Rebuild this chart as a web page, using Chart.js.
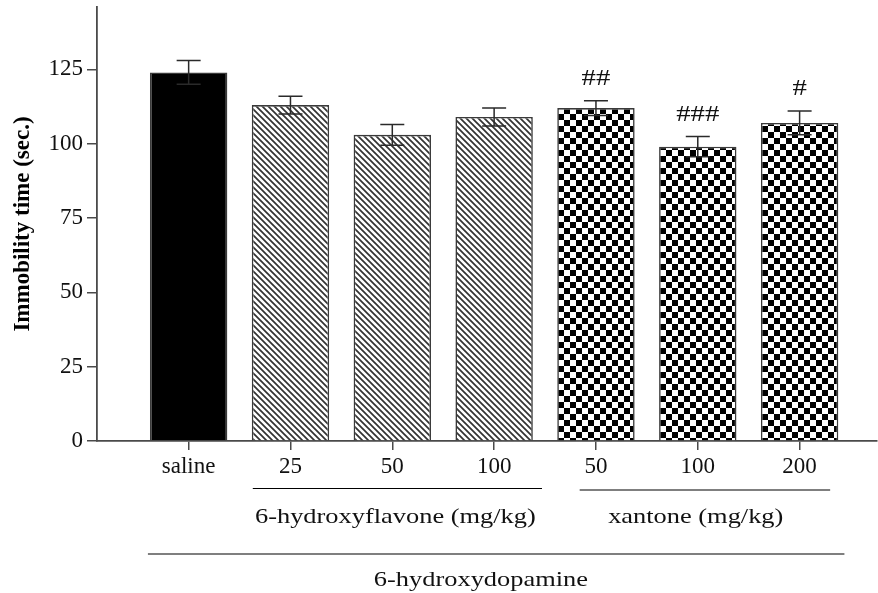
<!DOCTYPE html>
<html>
<head>
<meta charset="utf-8">
<script src="https://cdn.jsdelivr.net/npm/chart.js@4.4.1/dist/chart.umd.min.js"></script>
<style>
  html, body { margin: 0; padding: 0; background: #fff; }
  #wrap { width: 878px; height: 593px; position: relative; }
</style>
</head>
<body>
<div id="wrap"><canvas id="c"></canvas></div>
<script>
// Immobility time after 6-hydroxydopamine, by treatment group
const categories   = ['saline', '25', '50', '100', '50', '100', '200'];
const treatment    = ['saline', 'flavone', 'flavone', 'flavone', 'xantone', 'xantone', 'xantone'];
const immobility   = [124, 113, 103, 109, 112, 99, 107];
const sem          = [4, 3, 3.5, 3, 2.5, 3.4, 4];
const significance = ['', '', '', '', '##', '###', '#'];
const yTicks       = [0, 25, 50, 75, 100, 125];
const groupNames   = ['6-hydroxyflavone (mg/kg)', 'xantone (mg/kg)', '6-hydroxydopamine'];

const SERIF = '"Liberation Serif", "Times New Roman", serif';
const INK = '#111';
const AXIS = '#4a4a4a';

// diagonal hatch (top-left to bottom-right)
function hatchPattern() {
  const s = 6;
  const c = document.createElement('canvas');
  c.width = c.height = s;
  const g = c.getContext('2d');
  g.fillStyle = '#fff';
  g.fillRect(0, 0, s, s);
  g.strokeStyle = '#333';
  g.lineWidth = 1.7;
  g.beginPath();
  for (const d of [-s, 0, s]) {
    g.moveTo(d - 1, -1);
    g.lineTo(d + s + 1, s + 1);
  }
  g.stroke();
  return g.createPattern(c, 'repeat');
}

// black / white checkerboard
function checkerPattern() {
  const s = 6;
  const c = document.createElement('canvas');
  c.width = c.height = 2 * s;
  const g = c.getContext('2d');
  g.fillStyle = '#fff';
  g.fillRect(0, 0, 2 * s, 2 * s);
  g.fillStyle = '#000';
  g.fillRect(0, 0, s, s);
  g.fillRect(s, s, s, s);
  return g.createPattern(c, 'repeat');
}

const fills = { saline: '#000', flavone: hatchPattern(), xantone: checkerPattern() };

// mean ± SEM whiskers with caps
const errorBars = {
  id: 'errorBars',
  afterDatasetsDraw(chart, args, opts) {
    const { ctx, scales: { x, y } } = chart;
    ctx.save();
    ctx.strokeStyle = opts.color;
    ctx.lineWidth = opts.width;
    immobility.forEach((v, i) => {
      const px = x.getPixelForValue(i + 1);
      const top = y.getPixelForValue(v + sem[i]);
      const bot = y.getPixelForValue(v - sem[i]);
      const h = opts.cap / 2;
      ctx.beginPath();
      ctx.moveTo(px, bot); ctx.lineTo(px, top);
      ctx.moveTo(px - h, top); ctx.lineTo(px + h, top);
      ctx.moveTo(px - h, bot); ctx.lineTo(px + h, bot);
      ctx.stroke();
    });
    ctx.restore();
  }
};

// significance marks above the whiskers
const marks = {
  id: 'marks',
  afterDatasetsDraw(chart, args, opts) {
    const { ctx, scales: { x, y } } = chart;
    ctx.save();
    ctx.fillStyle = INK;
    ctx.font = opts.size + 'px ' + SERIF;
    ctx.textAlign = 'center';
    ctx.textBaseline = 'alphabetic';
    significance.forEach((s, i) => {
      if (!s) return;
      const px = x.getPixelForValue(i + 1);
      const py = y.getPixelForValue(immobility[i] + sem[i]) - opts.gap;
      ctx.save();
      ctx.translate(px, py);
      ctx.scale(opts.stretch, 1);
      ctx.fillText(s, 0, 0);
      ctx.restore();
    });
    ctx.restore();
  }
};

// bracket lines and group captions under the x axis
const groupLabels = {
  id: 'groupLabels',
  afterDraw(chart, args, opts) {
    const { ctx, scales: { x } } = chart;
    ctx.save();
    ctx.strokeStyle = '#000';
    ctx.lineWidth = 1.2;
    ctx.fillStyle = INK;
    ctx.font = opts.size + 'px ' + SERIF;
    ctx.textAlign = 'center';
    ctx.textBaseline = 'alphabetic';
    opts.items.forEach((it, k) => {
      const x1 = x.getPixelForValue(it.from);
      const x2 = x.getPixelForValue(it.to);
      ctx.beginPath();
      ctx.moveTo(x1, it.lineY);
      ctx.lineTo(x2, it.lineY);
      ctx.stroke();
      ctx.save();
      ctx.translate(x.getPixelForValue(it.labelAt), it.textY);
      ctx.scale(opts.stretch, 1);
      ctx.fillText(groupNames[k], 0, 0);
      ctx.restore();
    });
    ctx.restore();
  }
};

new Chart(document.getElementById('c'), {
  type: 'bar',
  data: {
    datasets: [{
      data: immobility.map((v, i) => ({ x: i + 1, y: v })),
      backgroundColor: treatment.map(t => fills[t]),
      borderColor: '#3a3a3a',
      borderWidth: 1.6,
      barPercentage: 0.76,
      categoryPercentage: 1.0
    }]
  },
  options: {
    responsive: true,
    maintainAspectRatio: false,
    animation: false,
    layout: { padding: { top: 7, right: 1, left: 0, bottom: 0 } },
    plugins: {
      legend: { display: false },
      tooltip: { enabled: false },
      errorBars: { color: '#2a2a2a', width: 1.5, cap: 24 },
      marks: { size: 23, gap: 16, stretch: 1.25 },
      groupLabels: {
        size: 22,
        stretch: 1.2,
        items: [
          { from: 1.63, to: 4.47, labelAt: 3.03, lineY: 488.5, textY: 523 },
          { from: 4.84, to: 7.30, labelAt: 5.98, lineY: 490, textY: 523 },
          { from: 0.60, to: 7.44, labelAt: 3.87, lineY: 554, textY: 586 }
        ]
      }
    },
    scales: {
      x: {
        type: 'linear',
        offset: false,
        min: 0.1,
        max: 7.76,
        afterBuildTicks: s => { s.ticks = categories.map((_, i) => ({ value: i + 1 })); },
        afterFit: s => { s.height = 152; },
        grid: { display: true, offset: false, drawOnChartArea: false, drawTicks: true, tickLength: 9, color: AXIS, lineWidth: 1.5 },
        border: { display: true, color: AXIS, width: 1.8 },
        ticks: {
          autoSkip: false,
          maxRotation: 0,
          padding: 3,
          color: INK,
          font: { family: SERIF, size: 23 },
          callback: (v, i) => categories[i]
        }
      },
      y: {
        min: 0,
        max: 146,
        afterBuildTicks: s => { s.ticks = yTicks.map(v => ({ value: v })); },
        afterFit: s => { s.width = 97; s.paddingTop = 0; s.paddingBottom = 0; },
        grid: { display: true, drawOnChartArea: false, drawTicks: true, tickLength: 10, color: AXIS, lineWidth: 1.5 },
        border: { display: true, color: AXIS, width: 1.8 },
        ticks: { padding: 4, color: INK, font: { family: SERIF, size: 23 } },
        title: {
          display: true,
          text: 'Immobility time (sec.)',
          color: '#000',
          font: { family: SERIF, size: 23, weight: 'bold' },
          padding: { top: 9, bottom: 0 }
        }
      }
    }
  },
  plugins: [errorBars, marks, groupLabels]
});
</script>
</body>
</html>
